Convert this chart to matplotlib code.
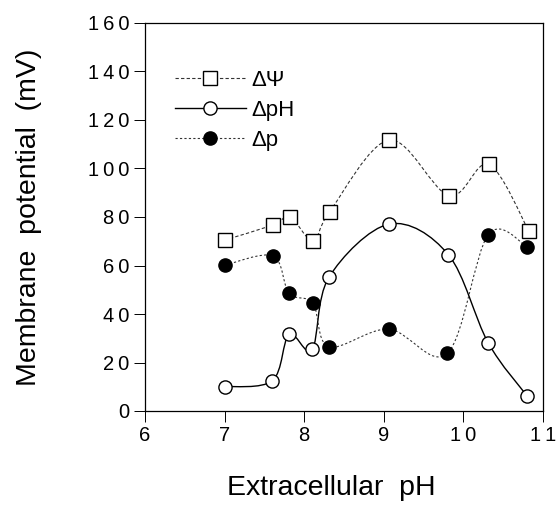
import numpy as np
import matplotlib
matplotlib.use("Agg")
import matplotlib.pyplot as plt
from matplotlib.path import Path
from matplotlib.patches import PathPatch
from matplotlib.lines import Line2D
from matplotlib.ticker import FuncFormatter

plt.rcParams['font.family'] = ['Liberation Sans', 'DejaVu Sans']

# ---- data ----
ph_psi = [7.00, 7.61, 7.82, 8.11, 8.32, 9.07, 9.82, 10.32, 10.82]
dpsi = [70.5, 76.7, 80.1, 70.2, 82.2, 111.8, 88.8, 101.7, 74.4]

ph_ph = [7.00, 7.60, 7.81, 8.10, 8.31, 9.07, 9.81, 10.31, 10.80]
dph = [10.0, 12.5, 31.6, 25.4, 55.1, 77.1, 64.5, 28.2, 6.2]

ph_p = [7.01, 7.61, 7.81, 8.11, 8.31, 9.06, 9.80, 10.31, 10.80]
dp = [60.2, 63.9, 48.5, 44.4, 26.5, 33.8, 23.8, 72.6, 67.8]

labels = ['\u0394\u03a8', '\u0394pH', '\u0394p']
xticks = [6, 7, 8, 9, 10, 11]
yticks = [0, 20, 40, 60, 80, 100, 120, 140, 160]

W, H = 558, 507
fig = plt.figure(figsize=(W / 100, H / 100), dpi=100)
ax = fig.add_axes([145 / W, 1 - 411 / H, (543 - 145) / W, (411 - 23) / H])
ax.set_xlim(6, 11)
ax.set_ylim(0, 160)


def smooth_path(xs, ys, k=1 / 6):
    # Catmull-Rom spline through the data points, as cubic Bezier segments
    xs = np.asarray(xs, float)
    ys = np.asarray(ys, float)
    n = len(xs)
    verts = [(xs[0], ys[0])]
    codes = [Path.MOVETO]
    for i in range(n - 1):
        i0 = max(i - 1, 0)
        i3 = min(i + 2, n - 1)
        c1 = (xs[i] + (xs[i + 1] - xs[i0]) * k, ys[i] + (ys[i + 1] - ys[i0]) * k)
        c2 = (xs[i + 1] - (xs[i3] - xs[i]) * k, ys[i + 1] - (ys[i3] - ys[i]) * k)
        verts += [c1, c2, (xs[i + 1], ys[i + 1])]
        codes += [Path.CURVE4] * 3
    return Path(verts, codes)


styles = [
    dict(ls=(0, (3, 2)), lw=0.8, color='#333333'),
    dict(ls='-', lw=1.0, color='black'),
    dict(ls=(0, (2, 2)), lw=0.8, color='#333333'),
]
markers = [
    dict(marker='s', mfc='white', mec='black', ms=9.5, mew=1.0),
    dict(marker='o', mfc='white', mec='black', ms=9.5, mew=1.0),
    dict(marker='o', mfc='black', mec='black', ms=9.5, mew=1.0),
]

series = [(ph_psi, dpsi), (ph_ph, dph), (ph_p, dp)]
for (xs, ys), st, mk in zip(series, styles, markers):
    patch = PathPatch(smooth_path(xs, ys), fill=False, edgecolor=st['color'],
                      lw=st['lw'], linestyle=st['ls'], zorder=2)
    ax.add_patch(patch)
    ax.plot(xs, ys, ls='none', zorder=3, **mk)

handles = [Line2D([], [], color=st['color'], lw=st['lw'], ls=st['ls'], **mk)
           for st, mk in zip(styles, markers)]
ax.legend(handles, labels, loc='upper left', bbox_to_anchor=(0.075, 0.88),
          frameon=False, fontsize=16, handlelength=3.2, handletextpad=0.25,
          labelspacing=0.42, borderaxespad=0, borderpad=0)

ax.set_xticks(xticks)
ax.set_yticks(yticks)
sp = '\u2009'
ax.xaxis.set_major_formatter(FuncFormatter(lambda v, p: sp.join(str(int(v)))))
ax.yaxis.set_major_formatter(FuncFormatter(lambda v, p: sp.join(str(int(v)))))
ax.tick_params(axis='both', direction='out', length=8, width=0.7, pad=3,
               labelsize=14.5)
for s in ax.spines.values():
    s.set_linewidth(0.9)

ax.set_xlabel('Extracellular  pH', fontsize=20.5)
ax.xaxis.set_label_coords(0.467, -0.165)
ax.set_ylabel('Membrane  potential  (mV)', fontsize=20.5, labelpad=33)

fig.savefig('out.png', dpi=100)
